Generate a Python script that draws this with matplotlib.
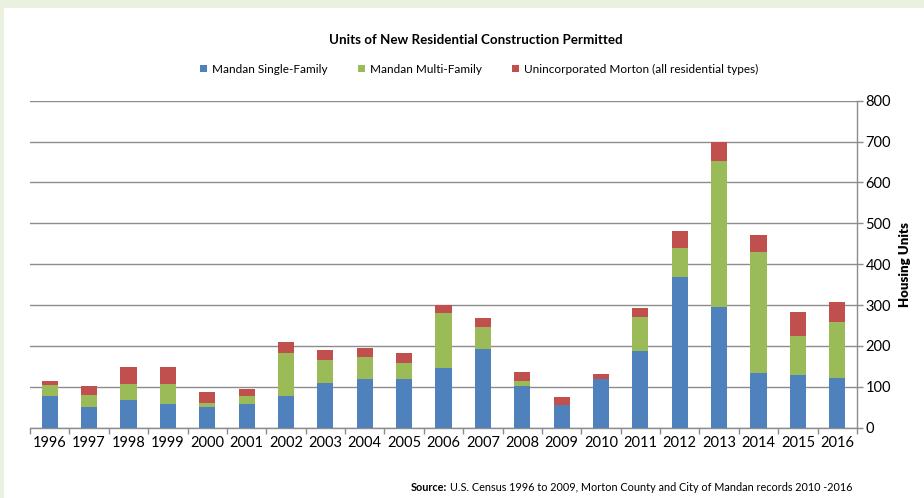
import matplotlib
matplotlib.use("Agg")
import matplotlib.pyplot as plt
from matplotlib.patches import Rectangle
import numpy as np

plt.rcParams['font.family'] = ['Lato', 'DejaVu Sans']

years = ["1996", "1997", "1998", "1999", "2000", "2001", "2002", "2003", "2004", "2005",
         "2006", "2007", "2008", "2009", "2010", "2011", "2012", "2013", "2014", "2015", "2016"]
single_family = [78, 51, 68, 59, 51, 58, 78, 109, 118, 119, 146, 193, 103, 56, 118, 188, 368, 295, 135, 130, 122]
multi_family = [26, 29, 40, 48, 9, 20, 104, 56, 54, 39, 134, 53, 11, 0, 0, 84, 72, 357, 296, 94, 137]
unincorporated = [11, 22, 40, 42, 28, 17, 27, 26, 22, 25, 20, 22, 22, 18, 13, 22, 42, 46, 41, 58, 48]
series_names = ["Mandan Single-Family", "Mandan Multi-Family", "Unincorporated Morton (all residential types)"]
y_ticks = [0, 100, 200, 300, 400, 500, 600, 700, 800]

colors = ["#4f81bd", "#9bbb59", "#c0504d"]

W, H = 924, 498
fig = plt.figure(figsize=(W / 100, H / 100), dpi=100)
fig.patch.set_facecolor("#ebf1df")
fig.patches.append(Rectangle((4 / W, 0), 1 - 4 / W, 1 - 8 / H, transform=fig.transFigure,
                             facecolor="white", edgecolor="none", zorder=-10))

ax = fig.add_axes([30 / W, 1 - 427.7 / H, (857 - 30) / W, (427.7 - 100.7) / H])
ax.set_zorder(5)
ax.set_facecolor("none")

x = np.arange(len(years))
bw = 0.41
sf = np.array(single_family)
mf = np.array(multi_family)
un = np.array(unincorporated)
ax.bar(x, sf, bw, color=colors[0], label=series_names[0], zorder=3)
ax.bar(x, mf, bw, bottom=sf, color=colors[1], label=series_names[1], zorder=3)
ax.bar(x, un, bw, bottom=sf + mf, color=colors[2], label=series_names[2], zorder=3)

ax.set_xlim(-0.5, len(years) - 0.5)
ax.set_ylim(0, 800)
ax.set_yticks(y_ticks)
ax.yaxis.tick_right()
ax.yaxis.set_label_position("right")
ax.grid(axis="y", color="#8c8c8c", linewidth=1.0, zorder=0)
ax.set_axisbelow(True)

for s in ["top", "left"]:
    ax.spines[s].set_visible(False)
ax.spines["right"].set_color("#8c8c8c")
ax.spines["bottom"].set_color("#8c8c8c")
ax.spines["right"].set_linewidth(1.0)
ax.spines["bottom"].set_linewidth(1.0)

ax.set_xticks(x)
ax.set_xticklabels(years)
ax.set_xticks(np.arange(len(years) + 1) - 0.5, minor=True)
ax.tick_params(axis="x", which="major", length=0, labelsize=10.5, pad=6, colors="black")
ax.tick_params(axis="x", which="minor", length=4, color="#8c8c8c", width=1)
ax.tick_params(axis="y", which="major", length=4, color="#8c8c8c", width=1,
               labelsize=10.5, pad=2, labelcolor="black")

ax.set_ylabel("Housing Units", fontsize=9.5, fontweight="heavy", labelpad=6)

fig.text(476 / W, 1 - 40 / H, "Units of New Residential Construction Permitted",
         ha="center", va="center", fontsize=9.6, fontweight="bold")

leg = fig.legend(loc="center", bbox_to_anchor=(479 / W, 1 - 69 / H), ncol=3, frameon=False,
                 fontsize=8.5, handlelength=0.6, handleheight=0.6, handletextpad=0.4,
                 columnspacing=2.6)

t1 = fig.text(411 / W, 1 - 487 / H, "Source:", ha="left", va="center", fontsize=7.8, fontweight="bold")
fig.canvas.draw()
bb = t1.get_window_extent(renderer=fig.canvas.get_renderer())
fig.text((bb.x1 + 3) / W, 1 - 487 / H,
         "U.S. Census 1996 to 2009, Morton County and City of Mandan records 2010 -2016",
         ha="left", va="center", fontsize=7.8)

fig.savefig("out.png", dpi=100, facecolor=fig.get_facecolor())
